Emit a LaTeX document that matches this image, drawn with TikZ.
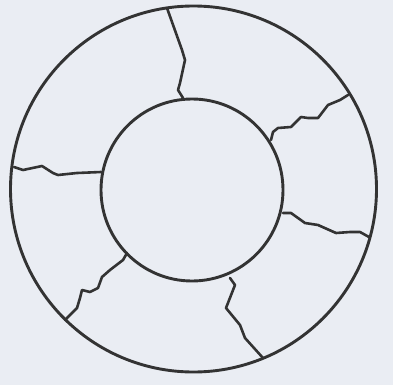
\documentclass[tikz,border=0pt]{standalone}
\begin{document}
\begin{tikzpicture}[x=1pt,y=-1pt,
  ink/.style={draw=black!80,line width=2.9pt,line join=round,line cap=round},
  crack/.style={ink,line width=2.6pt}]
\fill[fill={rgb,255:red,234;green,237;blue,243}] (0,0) rectangle (393,385);
\useasboundingbox (0,0) rectangle (393,385);
\draw[ink] (193.5,189) circle[radius=183];
\draw[ink] (192,190) circle[radius=91];
% cracks
\draw[crack] (167,8) -- (182,50) -- (185,60) -- (180,83) -- (178,90) -- (183,98);
\draw[crack] (14,167) -- (23,170) -- (42,166) -- (53,173) -- (58,175) -- (77,173) -- (101,172);
\draw[crack] (348,95) -- (340,100) -- (328,105) -- (318,118) -- (308,118) -- (301,117) -- (291,127) -- (278,128) -- (273,132) -- (271,140);
\draw[crack] (283,213) -- (291,213) -- (305,223) -- (318,225) -- (336,233) -- (350,232) -- (360,232) -- (369,237);
\draw[crack] (230,278) -- (235,285) -- (226,308) -- (240,325) -- (245,338) -- (263,358);
\draw[crack] (127,253) -- (123,260) -- (110,270) -- (102,277) -- (98,288) -- (90,292) -- (82,290) -- (80,298) -- (77,308) -- (65,320);
\end{tikzpicture}
\end{document}
